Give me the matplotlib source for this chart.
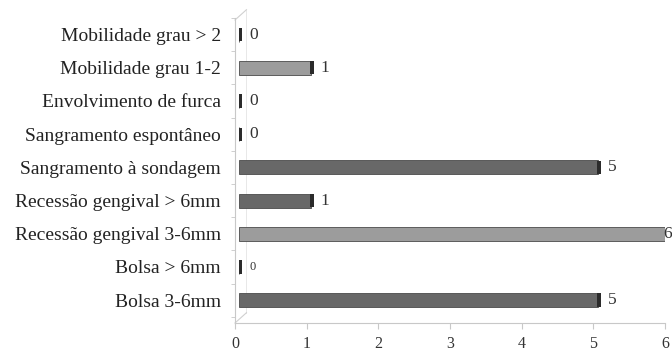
import matplotlib
matplotlib.use("Agg")
import matplotlib.pyplot as plt

# dados (de baixo para cima)
categorias = ['Bolsa 3-6mm', 'Bolsa > 6mm', 'Recessão gengival 3-6mm',
              'Recessão gengival > 6mm', 'Sangramento à sondagem',
              'Sangramento espontâneo', 'Envolvimento de furca',
              'Mobilidade grau 1-2', 'Mobilidade grau > 2']
valores = [5, 0, 6, 1, 5, 0, 0, 1, 0]
tons = ['escuro', 'escuro', 'claro', 'escuro', 'escuro',
        'escuro', 'escuro', 'claro', 'escuro']
eixo_x = [0, 1, 2, 3, 4, 5, 6]

cor = {'escuro': '#686868', 'claro': '#9c9c9c'}
plt.rcParams['font.family'] = ['Liberation Serif', 'DejaVu Serif']

fig = plt.figure(figsize=(6.72, 3.54), dpi=100)
ax = fig.add_axes([235 / 672, 31 / 354, 430 / 672, 305 / 354])

y = list(range(len(categorias)))
desloc = 0.06   # profundidade 3D
for i, v in enumerate(valores):
    ax.barh(i, v, left=desloc, height=0.42, color=cor[tons[i]],
            edgecolor='#4a4a4a', linewidth=0.6, zorder=3)
    # face final da barra
    ax.barh(i, 0.05, left=desloc + v - 0.01, height=0.40, color='#2b2b2b',
            linewidth=0, zorder=4)
    tam = 9 if categorias[i] == 'Bolsa > 6mm' else 12.5
    if v == max(eixo_x):
        # rótulo no limite direito da figura
        ax.annotate(str(v), (1.0, i), xycoords=('figure fraction', 'data'),
                    xytext=(-6.5, 0), textcoords='offset points', va='center',
                    ha='left', fontsize=tam, color='#333333',
                    annotation_clip=False)
    else:
        ax.annotate(str(v), (desloc + v + 0.04, i), xytext=(5, 0),
                    textcoords='offset points', va='center', ha='left',
                    fontsize=tam, color='#333333', annotation_clip=False)

ax.set_xlim(0, 6)
ax.set_ylim(-0.69, 8.44)
ax.set_xticks(eixo_x)
ax.set_xticklabels([str(t) for t in eixo_x], fontsize=11.5, color='#333333')
ax.set_yticks(y)
ax.set_yticklabels(categorias, fontsize=14, color='#222222')
ax.set_yticks([i + 0.5 for i in range(-1, len(categorias))], minor=True)
ax.tick_params(axis='y', which='major', length=0, pad=10)
ax.tick_params(axis='y', which='minor', length=3, color='#c8c8c8')
ax.tick_params(axis='x', length=4, color='#c8c8c8', pad=5)

for s in ['top', 'right']:
    ax.spines[s].set_visible(False)
for s in ['left', 'bottom']:
    ax.spines[s].set_color('#c8c8c8')
    ax.spines[s].set_linewidth(0.8)

# linhas da parede 3D
ax.plot([0, 0.16], [-0.69, -0.38], color='#d0d0d0', lw=0.8, clip_on=False)
ax.plot([0, 0.16], [8.44, 8.75], color='#d0d0d0', lw=0.8, clip_on=False)
ax.plot([0.16, 0.16], [-0.38, 8.75], color='#e4e4e4', lw=0.6, clip_on=False, zorder=1)

fig.savefig('out.png', dpi=100)
